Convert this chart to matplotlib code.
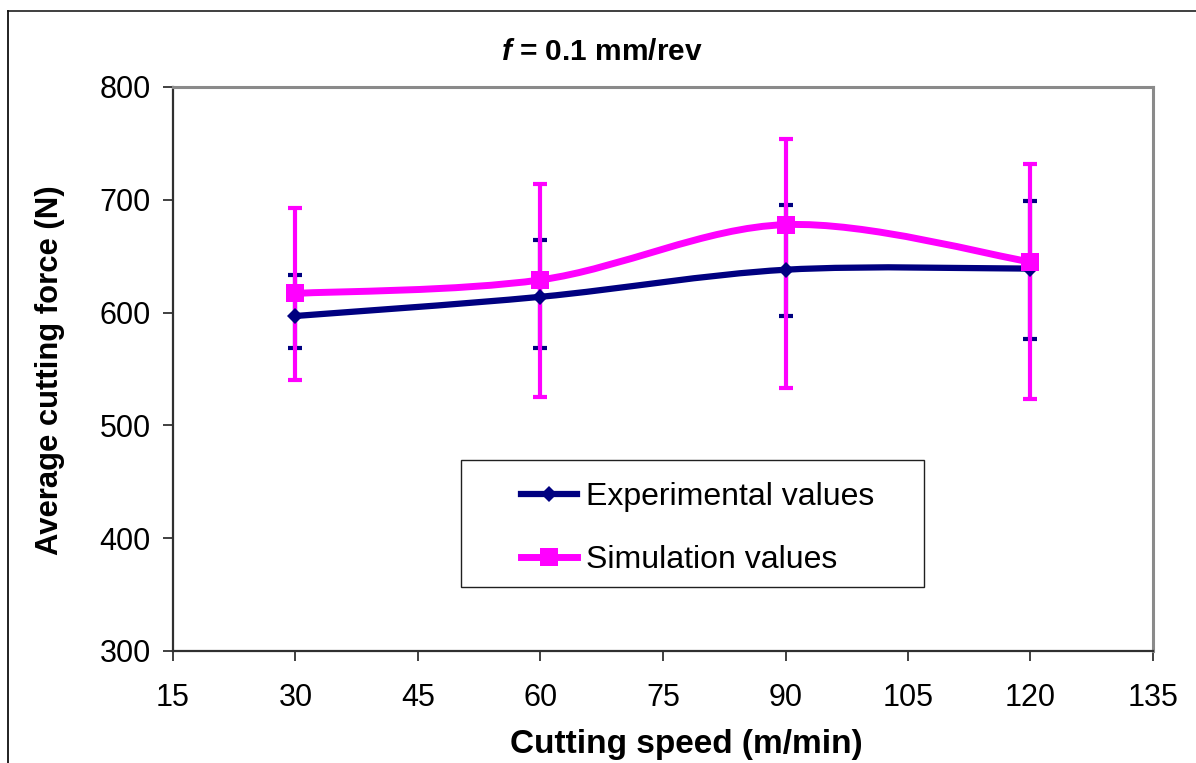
import matplotlib
matplotlib.use('Agg')
import matplotlib.pyplot as plt
from matplotlib.path import Path
from matplotlib.patches import PathPatch, Rectangle
from matplotlib.lines import Line2D
import numpy as np

# ---------------- data ----------------
speeds = [30, 60, 90, 120]
exp_force = [597, 614, 638, 639]
exp_low = [569, 569, 597, 577]
exp_high = [633, 664, 695, 699]
sim_force = [617, 629, 678, 645]
sim_low = [540, 525, 533, 523]
sim_high = [693, 714, 754, 732]

x_ticks = [15, 30, 45, 60, 75, 90, 105, 120, 135]
y_ticks = [300, 400, 500, 600, 700, 800]

labels = ["Experimental values", "Simulation values"]
title_text = r"$\mathbfit{f}$ = 0.1 mm/rev"
xlabel_text = "Cutting speed (m/min)"
ylabel_text = "Average cutting force (N)"

NAVY = '#000080'
MAGENTA = '#FF00FF'

plt.rcParams['font.family'] = ['Liberation Sans', 'DejaVu Sans']
plt.rcParams['mathtext.fontset'] = 'custom'
plt.rcParams['mathtext.bfit'] = 'Liberation Sans:italic:bold'
plt.rcParams['mathtext.rm'] = 'Liberation Sans:bold'


def smooth_path(xs, ys):
    """Excel-like smoothed line as cubic Bezier path through the data points."""
    pts = np.column_stack([xs, ys]).astype(float)
    n = len(pts)
    verts = [pts[0]]
    codes = [Path.MOVETO]
    for i in range(n - 1):
        p0 = pts[max(i - 1, 0)]
        p1 = pts[i]
        p2 = pts[i + 1]
        p3 = pts[min(i + 2, n - 1)]
        c1 = p1 + (p2 - p0) / 6.0
        c2 = p2 - (p3 - p1) / 6.0
        verts += [c1, c2, p2]
        codes += [Path.CURVE4] * 3
    return Path(verts, codes)


fig = plt.figure(figsize=(11.96, 7.63), dpi=100)
fig.patch.set_facecolor('white')
ax = fig.add_axes([173 / 1196, 1 - 651 / 763, 980 / 1196, 564 / 763])

exp_err = [np.array(exp_force) - np.array(exp_low), np.array(exp_high) - np.array(exp_force)]
sim_err = [np.array(sim_force) - np.array(sim_low), np.array(sim_high) - np.array(sim_force)]

ax.errorbar(speeds, exp_force, yerr=exp_err, fmt='none', ecolor=NAVY,
            elinewidth=3, capsize=5, capthick=3, zorder=2)
ax.errorbar(speeds, sim_force, yerr=sim_err, fmt='none', ecolor=MAGENTA,
            elinewidth=3, capsize=5, capthick=3, zorder=2.1)

ax.add_patch(PathPatch(smooth_path(speeds, exp_force), facecolor='none',
                       edgecolor=NAVY, lw=4.5, capstyle='butt', zorder=3))
ax.plot(speeds, exp_force, linestyle='none', marker='D', markersize=8.5,
        color=NAVY, markeredgewidth=0, zorder=3.1)
ax.add_patch(PathPatch(smooth_path(speeds, sim_force), facecolor='none',
                       edgecolor=MAGENTA, lw=5, capstyle='butt', zorder=3.2))
ax.plot(speeds, sim_force, linestyle='none', marker='s', markersize=12.5,
        color=MAGENTA, markeredgewidth=0, zorder=3.3)

ax.set_xlim(15, 135)
ax.set_ylim(300, 800)
ax.set_xticks(x_ticks)
ax.set_yticks(y_ticks)
ax.tick_params(axis='both', direction='out', length=7, width=1.2,
               labelsize=22, color='#202020')
ax.tick_params(axis='x', pad=16)
ax.tick_params(axis='y', pad=9)

for s in ['left', 'bottom']:
    ax.spines[s].set_color('#303030')
    ax.spines[s].set_linewidth(1.6)
for s in ['top', 'right']:
    ax.spines[s].set_color('#8a8a8a')
    ax.spines[s].set_linewidth(2.2)

# legend frame and entries
ax.add_patch(Rectangle((288 / 980, 64 / 564), 463 / 980, 127 / 564,
                       transform=ax.transAxes, facecolor='white',
                       edgecolor='#202020', lw=1.0, zorder=5))
handles = [
    Line2D([], [], color=NAVY, lw=4.5, marker='D', markersize=8.5, markeredgewidth=0),
    Line2D([], [], color=MAGENTA, lw=5, marker='s', markersize=12.5, markeredgewidth=0),
]
leg = ax.legend(handles, labels, loc='center left',
                bbox_to_anchor=(348 / 980, (651 - 528.5) / 564),
                frameon=False, borderpad=0, borderaxespad=0,
                handlelength=1.75, handletextpad=0.3, labelspacing=1.05,
                fontsize=23, numpoints=1)
leg.set_zorder(6)

# titles / labels
fig.text(602 / 1196, 1 - 60 / 763, title_text, ha='center', va='baseline',
         fontsize=21.5, fontweight='bold')
fig.text(686 / 1196, 1 - 753 / 763, xlabel_text, ha='center', va='baseline',
         fontsize=24, fontweight='bold')
fig.text(50 / 1196, 1 - 370 / 763, ylabel_text, ha='center', va='center',
         rotation=90, fontsize=22.3, fontweight='bold')

# outer chart border (top and left visible)
fig.add_artist(Line2D([7.5 / 1196, 1.0], [1 - 10.5 / 763, 1 - 10.5 / 763],
                      transform=fig.transFigure, color='#303030', lw=1.3))
fig.add_artist(Line2D([7.5 / 1196, 7.5 / 1196], [0.0, 1 - 10.5 / 763],
                      transform=fig.transFigure, color='#101010', lw=1.3))

fig.savefig('out.png', dpi=100)
